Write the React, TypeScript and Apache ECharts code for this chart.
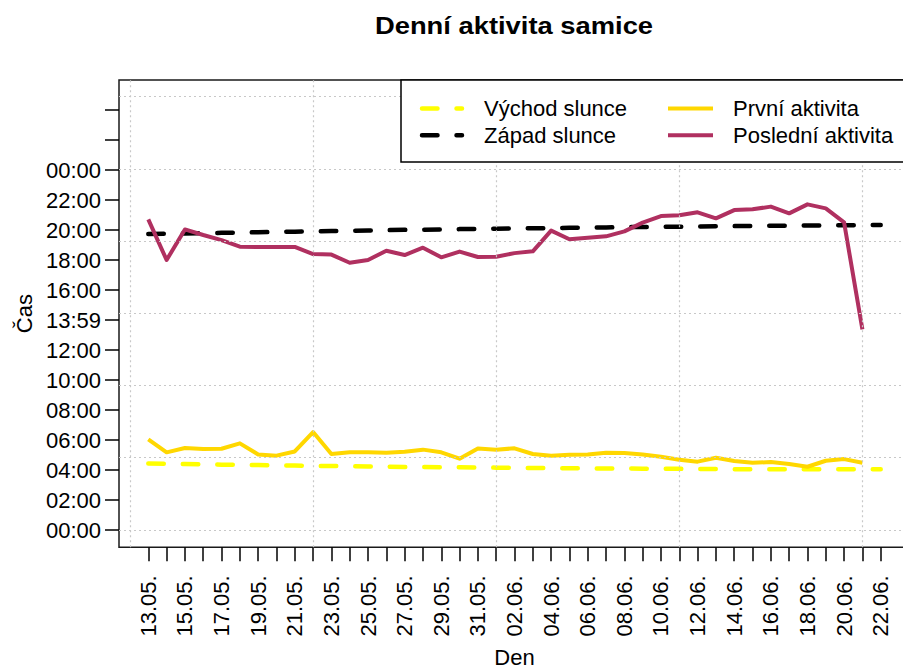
import React, { useEffect, useRef } from "react";
import * as echarts from "echarts";

const FONT = "'Liberation Sans', Arial, Helvetica, sans-serif";

const TITLE = "Denní aktivita samice";
const X_NAME = "Den";
const Y_NAME = "Čas";

// Days 13.05. – 22.06. (index 0..40)
const DATES = [
  "13.05.", "14.05.", "15.05.", "16.05.", "17.05.", "18.05.", "19.05.", "20.05.", "21.05.", "22.05.",
  "23.05.", "24.05.", "25.05.", "26.05.", "27.05.", "28.05.", "29.05.", "30.05.", "31.05.",
  "01.06.", "02.06.", "03.06.", "04.06.", "05.06.", "06.06.", "07.06.", "08.06.", "09.06.", "10.06.",
  "11.06.", "12.06.", "13.06.", "14.06.", "15.06.", "16.06.", "17.06.", "18.06.", "19.06.", "20.06.",
  "21.06.", "22.06.",
];

// hours (decimal)
const SUNRISE = [
  4.44, 4.42, 4.40, 4.38, 4.36, 4.35, 4.33, 4.31, 4.30, 4.28,
  4.27, 4.25, 4.24, 4.23, 4.21, 4.20, 4.19, 4.18, 4.17, 4.16,
  4.15, 4.14, 4.13, 4.12, 4.11, 4.10, 4.10, 4.09, 4.08, 4.08,
  4.07, 4.07, 4.06, 4.06, 4.06, 4.06, 4.05, 4.05, 4.05, 4.06, 4.06,
];
const SUNSET = [
  19.73, 19.75, 19.77, 19.79, 19.81, 19.83, 19.85, 19.87, 19.89, 19.91,
  19.93, 19.95, 19.97, 19.99, 20.01, 20.02, 20.04, 20.06, 20.07, 20.09,
  20.10, 20.12, 20.13, 20.15, 20.16, 20.17, 20.19, 20.20, 20.21, 20.22,
  20.24, 20.25, 20.26, 20.27, 20.28, 20.29, 20.30, 20.31, 20.32, 20.33, 20.34,
];
const FIRST_ACTIVITY = [
  6.04, 5.18, 5.47, 5.40, 5.42, 5.78, 5.04, 4.96, 5.24, 6.53,
  5.07, 5.18, 5.18, 5.16, 5.22, 5.36, 5.18, 4.76, 5.44, 5.36,
  5.45, 5.07, 4.96, 5.02, 5.04, 5.16, 5.13, 5.04, 4.89, 4.69,
  4.56, 4.82, 4.60, 4.49, 4.53, 4.40, 4.22, 4.62, 4.73, 4.49,
];
const LAST_ACTIVITY = [
  20.71, 18.0, 20.04, 19.67, 19.33, 18.89, 18.87, 18.87, 18.87, 18.40,
  18.36, 17.82, 18.0, 18.62, 18.33, 18.82, 18.18, 18.56, 18.2, 18.22,
  18.46, 18.58, 19.96, 19.38, 19.49, 19.58, 19.91, 20.49, 20.93, 20.98,
  21.18, 20.78, 21.33, 21.38, 21.56, 21.11, 21.71, 21.44, 20.51, 13.38,
];

const Y_TICKS = [0, 2, 4, 6, 8, 10, 12, 14, 16, 18, 20, 22, 24, 26, 28];
const Y_LABEL_VALUES = [0, 2, 4, 6, 8, 10, 12, 14, 16, 18, 20, 22, 24];
const Y_LABELS = [
  "00:00", "02:00", "04:00", "06:00", "08:00", "10:00", "12:00",
  "13:59", "16:00", "18:00", "20:00", "22:00", "00:00",
];
const X_TICKS = DATES.map((_, i) => i);
const X_LABEL_VALUES = DATES.map((_, i) => i).filter((i) => i % 2 === 0);
const GRID_X = [-1, 9, 19, 29, 39];
const GRID_Y = [0, 4.815, 9.63, 14.445, 19.26, 24.075, 28.89];

const LEGEND = [
  { name: "Východ slunce", color: "#FFFF00", dashed: true },
  { name: "Západ slunce", color: "#000000", dashed: true },
  { name: "První aktivita", color: "#FFD700", dashed: false },
  { name: "Poslední aktivita", color: "#B03060", dashed: false },
];

const toPts = (arr: number[]) => arr.map((v, i) => [i, v]);

export default function App() {
  const ref = useRef<HTMLDivElement>(null);

  useEffect(() => {
    if (!ref.current) return;
    const chart = echarts.init(ref.current, null, { renderer: "svg" });
    const DASH = [15.5, 19];

    const legendEls: any[] = [
      {
        type: "rect",
        z: 100,
        shape: { x: 401, y: 80, width: 520, height: 82 },
        style: { fill: "#fff", stroke: "#000", lineWidth: 1.5 },
      },
    ];
    const pos = [
      { lx: 422, tx: 484, y: 108.5 },
      { lx: 422, tx: 484, y: 135.3 },
      { lx: 668, tx: 733, y: 108.5 },
      { lx: 668, tx: 733, y: 135.3 },
    ];
    LEGEND.forEach((it, k) => {
      const p = pos[k];
      legendEls.push({
        type: "line",
        z: 101,
        shape: it.dashed
          ? { x1: p.lx, y1: p.y, x2: p.lx + 40, y2: p.y }
          : { x1: p.lx, y1: p.y, x2: p.lx + 45, y2: p.y },
        style: it.dashed
          ? { stroke: it.color, lineWidth: 4.5, lineDash: DASH, lineCap: "round" }
          : { stroke: it.color, lineWidth: 4, lineCap: "butt" },
      });
      legendEls.push({
        type: "text",
        z: 101,
        x: p.tx,
        y: p.y,
        style: {
          text: it.name,
          fontSize: 22,
          fontFamily: FONT,
          fill: "#000",
          align: "left",
          verticalAlign: "middle",
        },
      });
    });

    const option: any = {
      animation: false,
      backgroundColor: "#ffffff",
      textStyle: { fontFamily: FONT },
      grid: {
        left: 119,
        top: 80,
        width: 791,
        height: 467.3,
        show: true,
        borderColor: "#1a1a1a",
        borderWidth: 1.5,
        backgroundColor: "transparent",
        containLabel: false,
        outerBoundsMode: "none",
      },
      xAxis: {
        type: "value",
        min: -1.6,
        max: 41.6,
        name: X_NAME,
        nameLocation: "middle",
        nameGap: 99,
        nameTextStyle: { fontSize: 22, color: "#000", fontFamily: FONT },
        axisLine: { show: false, onZero: false },
        axisTick: {
          show: true,
          inside: false,
          length: 14,
          lineStyle: { color: "#000", width: 1.5 },
          customValues: X_TICKS,
        },
        axisLabel: {
          rotate: 90,
          margin: 28,
          fontSize: 22,
          color: "#000",
          fontFamily: FONT,
          customValues: X_LABEL_VALUES,
          formatter: (v: number) => DATES[Math.round(v)] ?? "",
        },
        splitLine: { show: false },
      },
      yAxis: {
        type: "value",
        min: -1.15,
        max: 30,
        name: Y_NAME,
        nameLocation: "middle",
        nameGap: 84,
        nameTextStyle: { fontSize: 22, color: "#000", fontFamily: FONT },
        axisLine: { show: false, onZero: false },
        axisTick: {
          show: true,
          inside: false,
          length: 14,
          lineStyle: { color: "#000", width: 1.5 },
          customValues: Y_TICKS,
        },
        axisLabel: {
          margin: 18,
          fontSize: 22,
          color: "#000",
          fontFamily: FONT,
          customValues: Y_LABEL_VALUES,
          formatter: (v: number) => Y_LABELS[Math.round(v / 2)] ?? "",
        },
        splitLine: { show: false },
      },
      series: [
        {
          name: LEGEND[0].name,
          type: "line",
          data: toPts(SUNRISE),
          showSymbol: false,
          symbol: "none",
          lineStyle: { color: LEGEND[0].color, width: 4.5, type: DASH, cap: "round" },
          markLine: {
            silent: true,
            symbol: ["none", "none"],
            label: { show: false },
            lineStyle: { color: "#c8c8c8", width: 1.2, type: [2, 3] },
            data: [
              ...GRID_X.map((x) => ({ xAxis: x })),
              ...GRID_Y.map((y) => ({ yAxis: y })),
            ],
          },
          z: 1,
        },
        {
          name: LEGEND[1].name,
          type: "line",
          data: toPts(SUNSET),
          showSymbol: false,
          symbol: "none",
          lineStyle: { color: LEGEND[1].color, width: 4.5, type: DASH, cap: "round" },
          z: 2,
        },
        {
          name: LEGEND[2].name,
          type: "line",
          data: toPts(FIRST_ACTIVITY),
          showSymbol: false,
          symbol: "none",
          lineStyle: { color: LEGEND[2].color, width: 4, join: "round" },
          z: 3,
        },
        {
          name: LEGEND[3].name,
          type: "line",
          data: toPts(LAST_ACTIVITY),
          showSymbol: false,
          symbol: "none",
          lineStyle: { color: LEGEND[3].color, width: 4, join: "round" },
          z: 4,
        },
      ],
      graphic: [
        {
          type: "text",
          x: 514,
          y: 26,
          scaleX: 1.14,
          z: 100,
          style: {
            text: TITLE,
            fontSize: 24,
            fontWeight: "bold",
            fontFamily: FONT,
            fill: "#000",
            align: "center",
            verticalAlign: "middle",
          },
        },
        ...legendEls,
      ],
    };
    chart.setOption(option);
    return () => chart.dispose();
  }, []);

  return (
    <div
      ref={ref}
      style={{ position: "absolute", left: 0, top: 0, width: 903, height: 671 }}
    />
  );
}
